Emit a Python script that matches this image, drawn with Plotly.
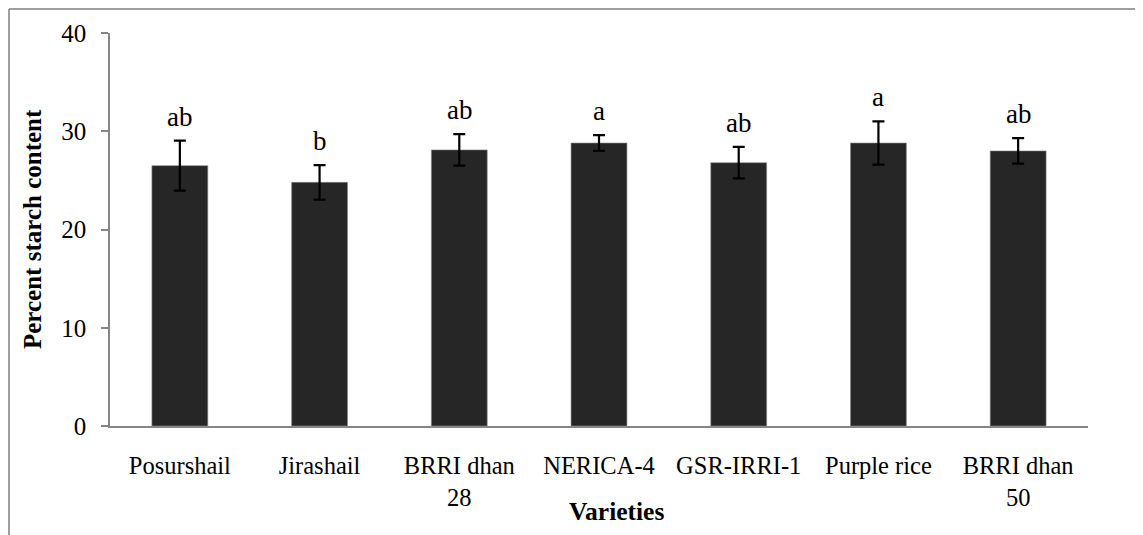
import plotly.graph_objects as go

varieties = ["Posurshail", "Jirashail", "BRRI dhan<br>28", "NERICA-4", "GSR-IRRI-1", "Purple rice", "BRRI dhan<br>50"]
starch = [26.5, 24.8, 28.1, 28.8, 26.8, 28.8, 28.0]
errors = [2.55, 1.75, 1.6, 0.8, 1.6, 2.2, 1.3]
letters = ["ab", "b", "ab", "a", "ab", "a", "ab"]

W, H = 1143, 535          # window size
OX, OY = 8, 8             # default page body margin
PL, PR, PT, PB = 110, 1088, 33, 426   # plot area in page pixels
FW, FH = W - OX, H - OY
L, T = PL - OX, PT - OY
R, B = W - PR, H - PB
pw, ph = PR - PL, PB - PT

def px(xp):
    return (xp - PL) / pw

def py(yp):
    return 1 - (yp - PT) / ph

SERIF = "Liberation Serif"

fig = go.Figure()
fig.add_trace(go.Bar(
    x=varieties, y=starch,
    marker=dict(color="#262626", line=dict(color="#8a8a8a", width=0.6)),
    error_y=dict(type="data", array=errors, visible=True, color="black", thickness=2.2, width=6),
    width=0.4,
))

for v, s, e, lt in zip(varieties, starch, errors, letters):
    fig.add_annotation(x=v, y=s + e, text=lt, showarrow=False, yanchor="middle", yshift=24,
                       font=dict(family=SERIF, size=27, color="black"))

# axis titles
fig.add_annotation(xref="paper", yref="paper", x=px(616), y=py(511), text="<b>Varieties</b>",
                   showarrow=False, xanchor="center", yanchor="middle",
                   font=dict(family=SERIF, size=25.5, color="black"))
fig.add_annotation(xref="paper", yref="paper", x=px(32), y=py(229), text="<b>Percent starch content</b>",
                   showarrow=False, xanchor="center", yanchor="middle", textangle=-90,
                   font=dict(family=SERIF, size=25, color="black"))

# outer frame (top and left edges visible)
fig.add_shape(type="line", xref="paper", yref="paper",
              x0=px(9), x1=px(W + 20), y0=py(9), y1=py(9),
              line=dict(color="#7f7f7f", width=1.5))
fig.add_shape(type="line", xref="paper", yref="paper",
              x0=px(9), x1=px(9), y0=py(9), y1=py(H + 20),
              line=dict(color="#7f7f7f", width=1.5))

fig.update_layout(
    width=FW, height=FH,
    margin=dict(l=L, r=R, t=T, b=B),
    paper_bgcolor="white", plot_bgcolor="white",
    showlegend=False,
    font=dict(family=SERIF, color="black", size=24),
    xaxis=dict(
        showline=True, linecolor="#868686", linewidth=1.5, ticks="", showgrid=False,
        tickfont=dict(family=SERIF, size=24.5, color="black"),
        ticklabelstandoff=17,
    ),
    yaxis=dict(
        range=[0, 40], dtick=10, showline=True, linecolor="#868686", linewidth=1.5,
        ticks="outside", ticklen=7, tickcolor="#868686", tickwidth=1.5, showgrid=False, zeroline=False,
        tickfont=dict(family=SERIF, size=25, color="black"),
        ticklabelstandoff=10,
    ),
)

fig.write_html("out.html")
